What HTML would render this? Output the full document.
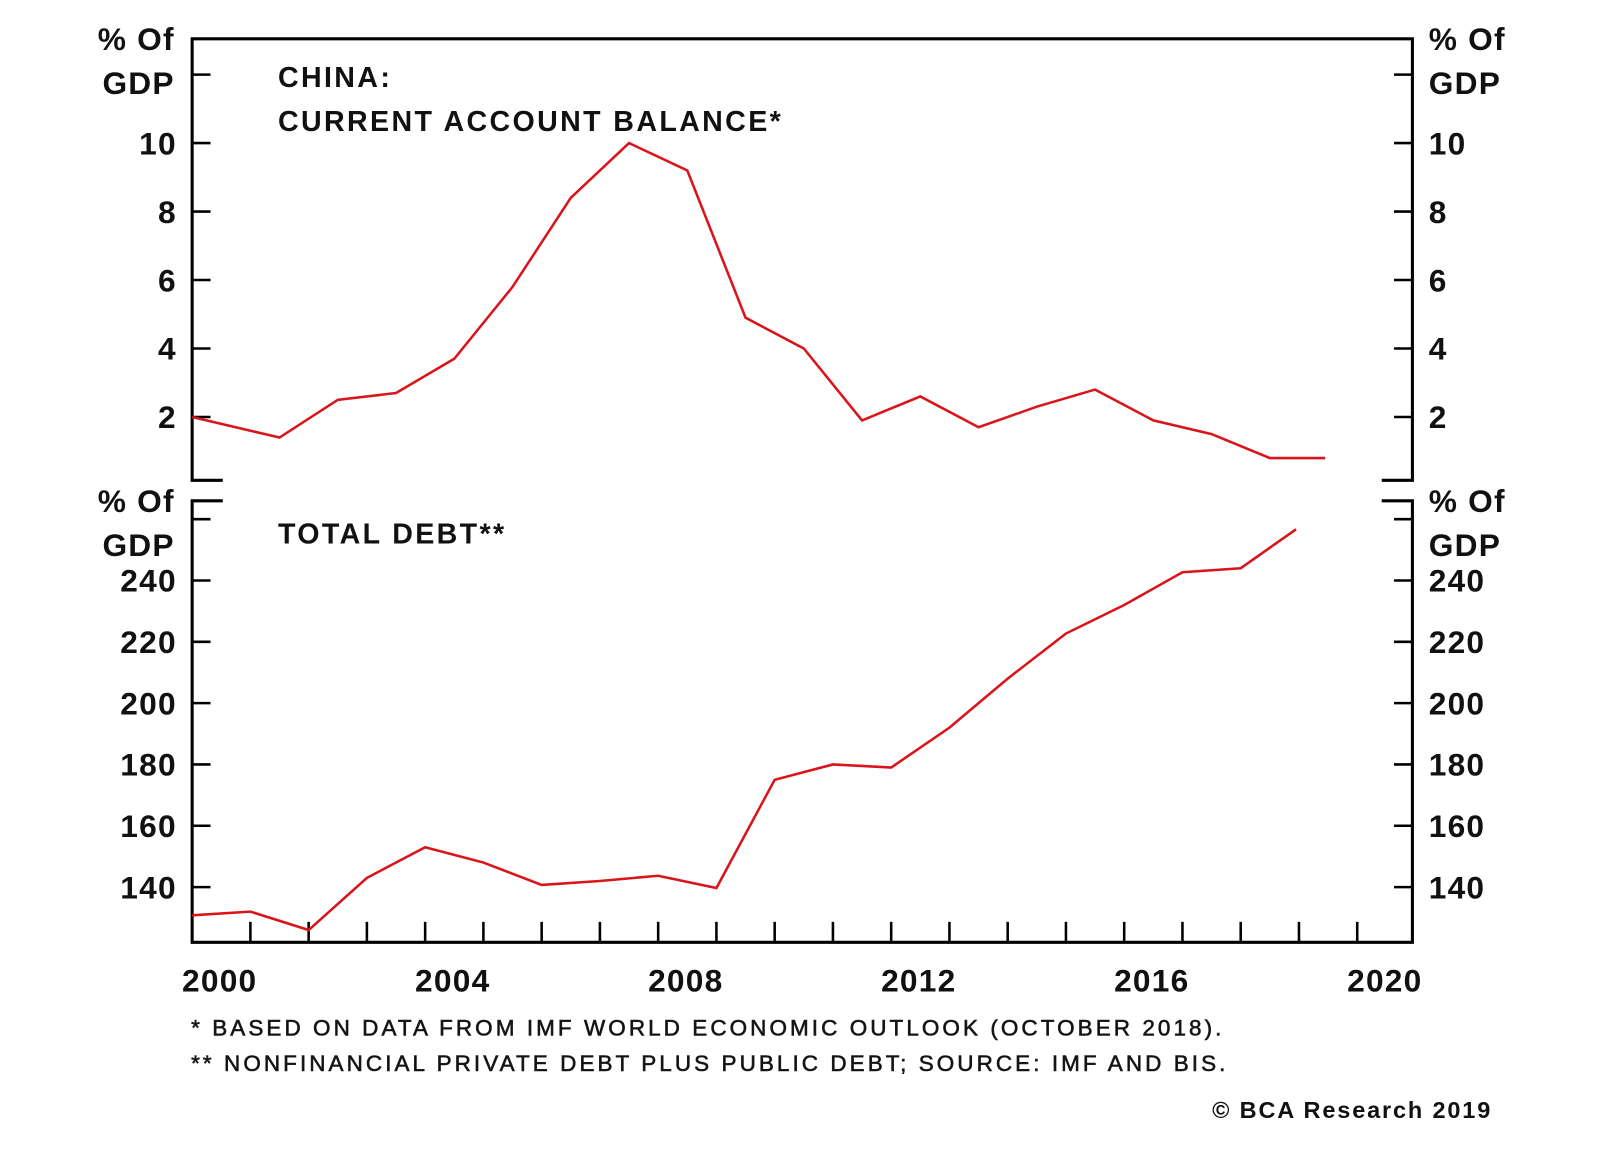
<!DOCTYPE html>
<html><head><meta charset="utf-8"><style>
body{margin:0;background:#fff}
svg text{font-family:"Liberation Sans",Arial,sans-serif;font-weight:bold;fill:#111}
</style></head><body>
<svg width="1600" height="1152" viewBox="0 0 1600 1152">
<g transform="scale(1.022)">
<g id="frames" stroke="#000" stroke-width="3" fill="none"></g>
<g id="ticks" stroke="#000" stroke-width="2.5"></g>
<g id="labels"></g>
<g id="lines"></g>
<text x="272" y="85" font-size="28" letter-spacing="2.3">CHINA:</text>
<text x="272" y="128" font-size="28" letter-spacing="2.3">CURRENT ACCOUNT BALANCE*</text>
<text x="272" y="532" font-size="28" letter-spacing="2.3">TOTAL DEBT**</text>
<text x="187" y="1013" font-size="22" fill="#222" letter-spacing="3.0" style="font-weight:normal;stroke:#222;stroke-width:0.6">*  BASED ON DATA FROM IMF WORLD ECONOMIC OUTLOOK (OCTOBER 2018).</text>
<text x="187" y="1048" font-size="22" fill="#222" letter-spacing="3.0" style="font-weight:normal;stroke:#222;stroke-width:0.6">** NONFINANCIAL PRIVATE DEBT PLUS PUBLIC DEBT; SOURCE: IMF AND BIS.</text>
<text x="1460" y="1094" font-size="23" text-anchor="end" letter-spacing="1.8">© BCA Research 2019</text>
</g>
</svg>
<script>
const caYears=[2000,2001.5,2002.5,2003.5,2004.5,2005.5,2006.5,2007.5,2008.5,2009.5,2010.5,2011.5,2012.5,2013.5,2014.5,2015.5,2016.5,2017.5,2018.5,2019.45];
const caValues=[2.0,1.4,2.5,2.7,3.7,5.8,8.4,10.0,9.2,4.9,4.0,1.9,2.6,1.7,2.3,2.8,1.9,1.5,0.8,0.8];
const debtYears=[2000,2001,2002,2003,2004,2005,2006,2007,2008,2009,2010,2011,2012,2013,2014,2015,2016,2017,2018,2018.95];
const debtValues=[130.8,132,126,143,153,148,140.7,142,143.7,139.7,175,180,179,192,208,222.7,232,242.7,244,256.7];
const caTicks=[12,10,8,6,4,2];
const caLabels=["10","8","6","4","2"];
const debtTicks=[260,240,220,200,180,160,140];
const debtLabels=["240","220","200","180","160","140"];
const xLabels=[2000,2004,2008,2012,2016,2020];
const NS="http://www.w3.org/2000/svg";
const L=188,R=1382;
const x=y=>L+(y-2000)*57;
const yCA=v=>475-v*33.5;
const yD=v=>868-(v-140)*3;
function mk(p,t,a){const e=document.createElementNS(NS,t);for(const k in a)e.setAttribute(k,a[k]);p.appendChild(e);return e;}
const fr=document.getElementById('frames'),tk=document.getElementById('ticks'),lb=document.getElementById('labels'),ln=document.getElementById('lines');
let e=mk(fr,'path',{d:`M${L+30},470 H${L} V38 H${R} V470 H${R-30}`});

e=mk(fr,'path',{d:`M${L+30},490 H${L} V922 H${R} V490 H${R-30}`});

caTicks.forEach(v=>{mk(tk,'line',{x1:L,x2:L+18,y1:yCA(v),y2:yCA(v)});mk(tk,'line',{x1:R-18,x2:R,y1:yCA(v),y2:yCA(v)});});
debtTicks.forEach(v=>{mk(tk,'line',{x1:L,x2:L+18,y1:yD(v),y2:yD(v)});mk(tk,'line',{x1:R-18,x2:R,y1:yD(v),y2:yD(v)});});
for(let yr=2001;yr<=2020;yr++){mk(tk,'line',{x1:x(yr),x2:x(yr),y1:922,y2:902});}
function txt(s,xx,yy,anchor,name){const t=mk(lb,'text',{x:xx,y:yy,'font-size':31,'letter-spacing':1.2,'text-anchor':anchor});t.textContent=s;}
caLabels.forEach(s=>{const v=+s;txt(s,173,yCA(v)+11,'end','top-left-tick');txt(s,1398,yCA(v)+11,'start','top-right-tick');});
debtLabels.forEach(s=>{const v=+s;txt(s,173,yD(v)+11,'end','bottom-left-tick');txt(s,1398,yD(v)+11,'start','bottom-right-tick');});
[[49,92],[501,544]].forEach(([a,b])=>{txt('% Of',171,a,'end','left-unit');txt('GDP',171,b,'end','left-unit');txt('% Of',1398,a,'start','right-unit');txt('GDP',1398,b,'start','right-unit');});
xLabels.forEach(yr=>txt(String(yr),x(yr)+27,970,'middle','x-tick-label'));
e=mk(ln,'polyline',{points:caYears.map((y,i)=>x(y)+','+yCA(caValues[i])).join(' '),fill:'none',stroke:'#d9151b','stroke-width':2.5});

e=mk(ln,'polyline',{points:debtYears.map((y,i)=>x(y)+','+yD(debtValues[i])).join(' '),fill:'none',stroke:'#d9151b','stroke-width':2.5});

</script>
</body></html>
